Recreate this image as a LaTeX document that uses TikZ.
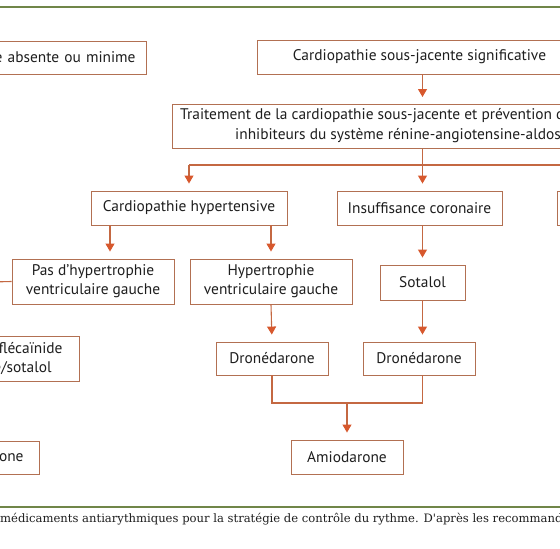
\documentclass[tikz,border=0pt]{standalone}
\usepackage{fontspec}
\setmainfont{PT Sans}
\newfontfamily\capfont{DejaVu Serif}
\usetikzlibrary{arrows.meta}
\definecolor{boxc}{RGB}{178,112,82}
\definecolor{linec}{RGB}{196,104,66}
\definecolor{tipc}{RGB}{215,88,45}
\definecolor{greenc}{RGB}{112,134,72}
\definecolor{txtc}{RGB}{30,30,30}
\begin{document}
\begin{tikzpicture}[x=1pt,y=-1pt,
  box/.style={draw=boxc, line width=0.9pt, text=txtc, font=\fontsize{15.4}{19}\selectfont,
    minimum height=34pt, inner sep=0pt},
  btxt/.style={text=txtc, font=\fontsize{15.4}{20}\selectfont, inner sep=0pt},
  conn/.style={draw=linec, line width=1.1pt},
  arr/.style={conn, -{Triangle[width=9pt,length=8pt,color=tipc]}, shorten >=7pt},
  rule/.style={draw=greenc, line width=1.6pt}]
\useasboundingbox (0,0) rectangle (560,549);
\begin{scope}
\clip (0,0) rectangle (560,549);
% frame lines
\coordinate (gtl) at (-5,7);
\coordinate (gtr) at (565,7);
\coordinate (gbl) at (-5,507);
\coordinate (gbr) at (565,507);
\draw[rule] (gtl) -- (gtr);
\draw[rule] (gbl) -- (gbr);
% boxes
\node[box, anchor=east, text width=200pt, align=right, inner xsep=11pt, minimum height=33pt] (abs) at (147,57.5) {e absente ou minime};
\node[box, minimum width=325pt] (sig) at (419.5,57) {Cardiopathie sous-jacente significative};
\node[box, anchor=north west, minimum width=480pt, minimum height=44pt] (trait) at (172,104) {};
\node[btxt, anchor=west] (trait1) at (180,115.5) {Traitement de la cardiopathie sous-jacente et prévention d};
\node[btxt, anchor=west] (trait2) at (235,135.5) {inhibiteurs du système rénine-angiotensine-aldos};
\node[box, minimum width=196pt] (hyp) at (189,208) {Cardiopathie hypertensive};
\node[box, minimum width=165pt] (cor) at (419.5,208) {Insuffisance coronaire};
\node[box, anchor=west, minimum width=40pt] (rbox) at (557,208) {};
\node[box, minimum width=162pt, minimum height=45pt, align=center] (nohvg) at (93,281.5) {Pas d’hypertrophie\\ventriculaire gauche};
\node[box, minimum width=162pt, minimum height=45pt, align=center] (hvg) at (271,281.5) {Hypertrophie\\ventriculaire gauche};
\node[box, minimum width=85pt, minimum height=35pt] (sot) at (422.5,282.5) {Sotalol};
\node[box, anchor=east, text width=150pt, align=right, inner xsep=17pt, minimum height=45pt, font=\fontsize{15.4}{18.5}\selectfont] (flec) at (80,358.5) {flécaïnide\\e/sotalol\rule{11pt}{0pt}};
\node[box, anchor=east, text width=60pt, align=right, inner xsep=16pt, minimum height=33pt] (jbox) at (40,457.5) {one};
\node[box, minimum width=112pt, minimum height=33pt] (dro1) at (272,358.5) {Dronédarone};
\node[box, minimum width=112pt, minimum height=33pt] (dro2) at (419,358.5) {Dronédarone};
\node[box, minimum width=112pt, minimum height=34pt] (amio) at (347,457) {Amiodarone};
% helper coordinates
\coordinate (t1) at (422.5,0);
\coordinate (xa) at (110,0);
\coordinate (bus) at (0,165);
\coordinate (busR) at (575,165);
\coordinate (m) at (0,403);
\coordinate (lf) at (-10,282);
% connectors
\draw[arr] (t1 |- sig.south) -- (t1 |- trait.north);
\draw[conn] (hyp.north |- bus) -- (busR);
\draw[arr] (t1 |- trait.south) -- (t1 |- cor.north);
\draw[arr] (hyp.north |- bus) -- (hyp.north);
\draw[arr] (xa |- hyp.south) -- (xa |- nohvg.north);
\draw[arr] (hvg.north |- hyp.south) -- (hvg.north);
\draw[arr] (t1 |- cor.south) -- (t1 |- sot.north);
\draw[arr] (t1 |- sot.south) -- (t1 |- dro2.north);
\draw[arr] (hvg.south) -- (dro1.north);
\draw[conn] (dro1.south) -- (dro1.south |- m) -- (t1 |- m) -- (t1 |- dro2.south);
\draw[arr] (amio.north |- m) -- (amio.north);
\draw[conn] (lf) -- (nohvg.west);
% caption
\node[anchor=base west, font=\capfont\fontsize{11.6}{13}\selectfont, text=txtc, inner sep=0pt] (cap) at (0,522)
  {médicaments antiarythmiques pour la stratégie de contrôle du rythme. D'après les recommand};
\end{scope}
\end{tikzpicture}
\end{document}
